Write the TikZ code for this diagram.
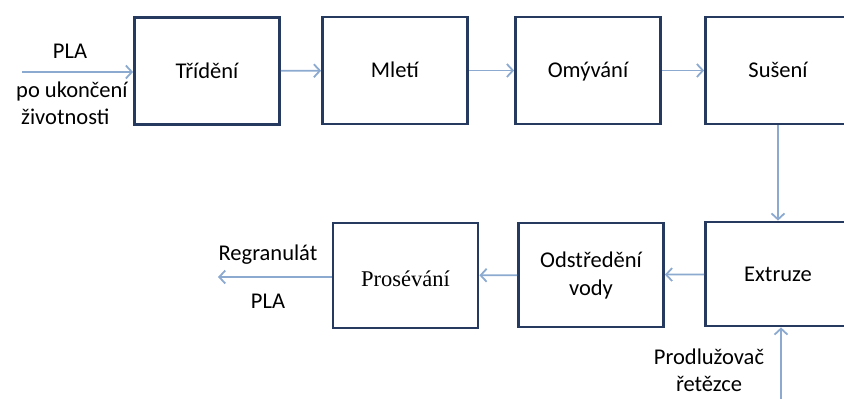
\documentclass[tikz,border=0pt]{standalone}
\usepackage{fontspec}
\setmainfont{Carlito}
\newfontfamily\serifb{Liberation Serif}
\usetikzlibrary{arrows.meta}
\definecolor{boxc}{RGB}{38,58,96}
\definecolor{arrc}{RGB}{140,170,208}
\tikzset{
  x=1pt,y=1pt,
  stage/.style={draw=boxc,line width=2.8pt,rectangle,minimum width=145pt,minimum height=107pt,inner sep=2pt,align=center,font=\fontsize{22.5}{28}\selectfont},
  oneline/.style={text height=16pt,text depth=2pt},
  lbl/.style={inner sep=0pt,align=center,font=\fontsize{22.5}{27}\selectfont},
  arr/.style={draw=arrc,line width=1.8pt,-{Straight Barb[length=6pt,width=13pt,line width=1.8pt]}},
}
\begin{document}
\begin{tikzpicture}
\useasboundingbox (0,0) rectangle (844,-399);
\clip (0,0) rectangle (844,-399);
\node[stage,oneline] (tri) at (207,-71) {Třídění};
\node[stage,oneline] (mle) at (395,-70.5) {Mletí};
\node[stage,oneline] (omy) at (588,-70.5) {Omývání};
\node[stage,oneline] (sus) at (778,-70.5) {Sušení};
\node[stage,text height=22pt,text depth=1pt,minimum height=105pt] (pro) at (405.5,-275.5) {\serifb Prosévání};
\node[stage,minimum height=104pt] (ods) at (591,-275) {Odstředění\\vody};
\node[stage,oneline,minimum height=104pt] (ext) at (778,-274) {Extruze};
\coordinate (in) at (22,-72);
\coordinate (out) at (218,-277);
\coordinate (pin) at (781,-399);
\draw[arr] (in) -- (in -| tri.west);
\draw[arr] (tri) -- (mle);
\draw[arr] (mle) -- (omy);
\draw[arr] (omy) -- (sus);
\draw[arr] (sus) -- (ext);
\draw[arr] (ext) -- (ods);
\draw[arr] (ods) -- (pro);
\draw[arr] (pro.west |- out) -- (out);
\draw[arr] (pin) -- (pin |- ext.south);
\node[lbl] (tpla) at (70,-51) {PLA};
\node[lbl,align=left,anchor=north west] (tpo) at (16,-82) {po ukončení\\\hspace*{5pt}životnosti};
\node[lbl] (treg) at (268,-255) {Regranulát};
\node[lbl] (tpla2) at (268,-301) {PLA};
\node[lbl,anchor=north] (tpr) at (709,-349) {Prodlužovač\\řetězce};
\end{tikzpicture}
\end{document}
